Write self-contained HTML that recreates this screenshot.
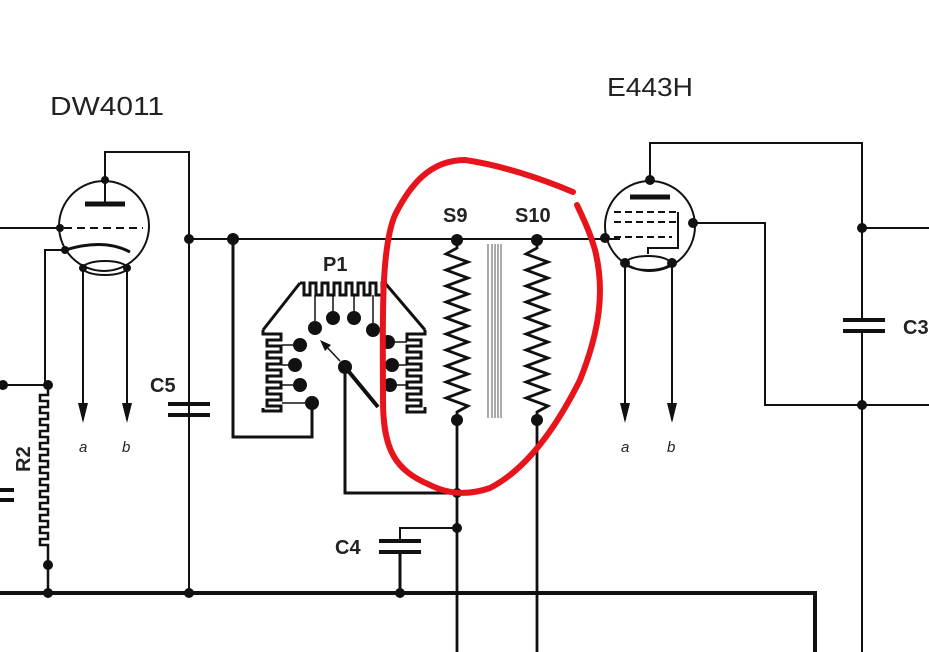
<!DOCTYPE html>
<html><head><meta charset="utf-8"><style>
html,body{margin:0;padding:0;background:#fff;}
svg{display:block;}
text{font-family:"Liberation Sans",sans-serif;fill:#222;}
</style></head><body>
<svg width="929" height="652" viewBox="0 0 929 652" xmlns="http://www.w3.org/2000/svg">
<g stroke="#111" fill="none" stroke-width="2">
<!-- Tube 1 -->
<circle cx="104" cy="226" r="45"/>
<line x1="85" y1="204" x2="125" y2="204" stroke-width="5"/>
<line x1="105" y1="180" x2="105" y2="204"/>
<polyline points="105,180 105,152 189,152 189,593"/>
<line x1="0" y1="228" x2="60" y2="228"/>
<line x1="64" y1="228" x2="143" y2="228" stroke-dasharray="8,5"/>
<path d="M65,250 Q104,238 130,252" stroke-width="3"/>
<polyline points="65,250 45,250 45,385"/>
<line x1="0" y1="385" x2="48" y2="385"/>
<ellipse cx="105" cy="268" rx="22" ry="7"/>
<line x1="83" y1="268" x2="83" y2="420"/>
<line x1="127" y1="268" x2="127" y2="420"/>
<!-- R2 -->
<path d="M48,385 V395 h-8 v6 h8 v6 h-8 v6 h8 v6 h-8 v6 h8 v6 h-8 v6 h8 v6 h-8 v6 h8 v6 h-8 v6 h8 v6 h-8 v6 h8 v6 h-8 v6 h8 v6 h-8 v6 h8 v6 h-8 v6 h8 v6 h-8 v6 h8 v6 h-8 v6 h8 v6 h-8 v6 h8 V593" stroke-width="2.5"/>
<!-- left cap -->
<line x1="0" y1="490" x2="14" y2="490" stroke-width="4"/>
<line x1="0" y1="500" x2="14" y2="500" stroke-width="4"/>
<!-- ground bus -->
<polyline points="0,593 815,593 815,652" stroke-width="4"/>
<!-- C5 -->
<line x1="168" y1="404" x2="210" y2="404" stroke-width="4"/>
<line x1="168" y1="415" x2="210" y2="415" stroke-width="4"/>
<!-- main line -->
<line x1="189" y1="239" x2="620" y2="239"/>
<polyline points="233,239 233,437 312,437 312,403" stroke-width="3"/>
<!-- P1 outline -->
<path d="M300,283 L263,330 M385,283 L425,330" stroke-width="3"/>
<path d="M300,283 h4 v12 h6 v-12 h6 v12 h6 v-12 h6 v12 h6 v-12 h6 v12 h6 v-12 h6 v12 h6 v-12 h6 v12 h6 v-12 h6 v12 h6 v-12 h5" stroke-width="3"/>
<path d="M263,330 v4 h18 v6 h-14 v6 h14 v6 h-14 v6 h14 v6 h-14 v6 h14 v6 h-14 v6 h14 v6 h-14 v6 h14 v6 h-14 v6 h14 v5 h-18 v-3" stroke-width="3"/>
<path d="M425,330 v4 h-18 v6 h14 v6 h-14 v6 h14 v6 h-14 v6 h14 v6 h-14 v6 h14 v6 h-14 v6 h14 v6 h-14 v6 h14 v6 h-14 v6 h18 v-5" stroke-width="3"/>
<path d="M315,295 V328 M333,295 V318 M354,295 V318 M373,295 V330 M282,345 H300 M282,365 H295 M282,385 H300 M282,403 H312 M407,342 H388 M407,365 H392 M407,385 H390" stroke-width="1.5"/>
<line x1="345" y1="367" x2="378" y2="407" stroke-width="4"/>
<line x1="340" y1="361" x2="324" y2="344" stroke-width="1.5"/>
<polygon points="320,340 331,345 325,351" fill="#111" stroke="none"/>
<polyline points="345,367 345,493 457,493" stroke-width="3"/>
<!-- transformer -->
<path d="M457,240 v8 l-11,6 l22,8 l-22,8 l22,8 l-22,8 l22,8 l-22,8 l22,8 l-22,8 l22,8 l-22,8 l22,8 l-22,8 l22,8 l-22,8 l22,8 l-22,8 l22,8 l-22,8 l22,8 l-11,6 V652" stroke-width="2.8"/>
<path d="M537,240 v8 l-11,6 l22,8 l-22,8 l22,8 l-22,8 l22,8 l-22,8 l22,8 l-22,8 l22,8 l-22,8 l22,8 l-22,8 l22,8 l-22,8 l22,8 l-22,8 l22,8 l-22,8 l22,8 l-11,6 V652" stroke-width="2.8"/>
<path d="M488,244 V418 M492,244 V418 M495,244 V418 M498,244 V418 M501,244 V418" stroke-width="1" stroke="#555"/>
<!-- C4 -->
<polyline points="457,528 400,528 400,541"/>
<line x1="379" y1="541" x2="421" y2="541" stroke-width="4"/>
<line x1="379" y1="552" x2="421" y2="552" stroke-width="4"/>
<line x1="400" y1="552" x2="400" y2="593" stroke-width="3"/>
<!-- Tube 2 -->
<circle cx="650" cy="226" r="45"/>
<line x1="630" y1="197" x2="670" y2="197" stroke-width="5"/>
<polyline points="650,180 650,143 862,143 862,320"/>
<line x1="862" y1="331" x2="862" y2="652"/>
<path d="M614,212 H678 M614,222 H678 M614,237 H672" stroke-dasharray="7,4"/>
<polyline points="678,212 678,248 648,248 648,254"/>
<polyline points="693,223 765,223 765,405 929,405"/>
<line x1="862" y1="228" x2="929" y2="228"/>
<ellipse cx="648" cy="263" rx="22" ry="7"/>
<line x1="625" y1="263" x2="625" y2="420"/>
<line x1="672" y1="263" x2="672" y2="420"/>
<line x1="843" y1="320" x2="885" y2="320" stroke-width="4"/>
<line x1="843" y1="331" x2="885" y2="331" stroke-width="4"/>
</g>
<g fill="#111">
<circle cx="105" cy="180" r="4"/><circle cx="60" cy="228" r="4"/><circle cx="65" cy="250" r="4"/>
<circle cx="83" cy="268" r="4"/><circle cx="127" cy="268" r="4"/>
<circle cx="48" cy="385" r="5"/><circle cx="3" cy="385" r="5"/>
<circle cx="48" cy="565" r="5"/><circle cx="48" cy="593" r="5"/><circle cx="189" cy="593" r="5"/><circle cx="400" cy="593" r="5"/>
<circle cx="189" cy="239" r="5"/><circle cx="233" cy="239" r="6"/>
<circle cx="315" cy="328" r="7"/><circle cx="333" cy="318" r="7"/><circle cx="354" cy="318" r="7"/><circle cx="373" cy="330" r="7"/>
<circle cx="300" cy="345" r="7"/><circle cx="295" cy="365" r="7"/><circle cx="300" cy="385" r="7"/><circle cx="312" cy="403" r="7"/>
<circle cx="388" cy="342" r="7"/><circle cx="392" cy="365" r="7"/><circle cx="390" cy="385" r="7"/>
<circle cx="345" cy="367" r="7"/>
<circle cx="457" cy="240" r="6"/><circle cx="537" cy="240" r="6"/><circle cx="457" cy="420" r="6"/><circle cx="537" cy="420" r="6"/>
<circle cx="457" cy="493" r="5"/><circle cx="457" cy="528" r="5"/>
<circle cx="650" cy="180" r="5"/><circle cx="605" cy="238" r="5"/><circle cx="693" cy="223" r="5"/>
<circle cx="625" cy="263" r="5"/><circle cx="672" cy="263" r="5"/>
<circle cx="862" cy="228" r="5"/><circle cx="862" cy="405" r="5"/>
<polygon points="78,403 88,403 83,423"/><polygon points="122,403 132,403 127,423"/>
<polygon points="620,403 630,403 625,423"/><polygon points="667,403 677,403 672,423"/>
</g>
<text x="50" y="115" font-size="26" textLength="114" lengthAdjust="spacingAndGlyphs">DW4011</text>
<text x="607" y="96" font-size="26" textLength="86" lengthAdjust="spacingAndGlyphs">E443H</text>
<g font-weight="bold" font-size="20">
<text x="323" y="271">P1</text>
<text x="443" y="222">S9</text>
<text x="515" y="222">S10</text>
<text x="150" y="392">C5</text>
<text x="335" y="554">C4</text>
<text x="903" y="334">C3</text>
<text transform="translate(30,472) rotate(-90)">R2</text>
</g>
<g font-style="italic" font-size="15">
<text x="79" y="452">a</text><text x="122" y="452">b</text>
<text x="621" y="452">a</text><text x="667" y="452">b</text>
</g>
<path d="M573,192 C540,178 500,165 465,160 C430,160 410,185 395,215 C380,250 383,330 383,400 C383,450 395,470 430,485 C450,495 470,495 490,488 C525,470 555,430 580,380 C600,330 605,290 595,250 C590,232 583,218 577,205" fill="none" stroke="#e8141c" stroke-width="6" stroke-linecap="round"/>
</svg>
</body></html>
